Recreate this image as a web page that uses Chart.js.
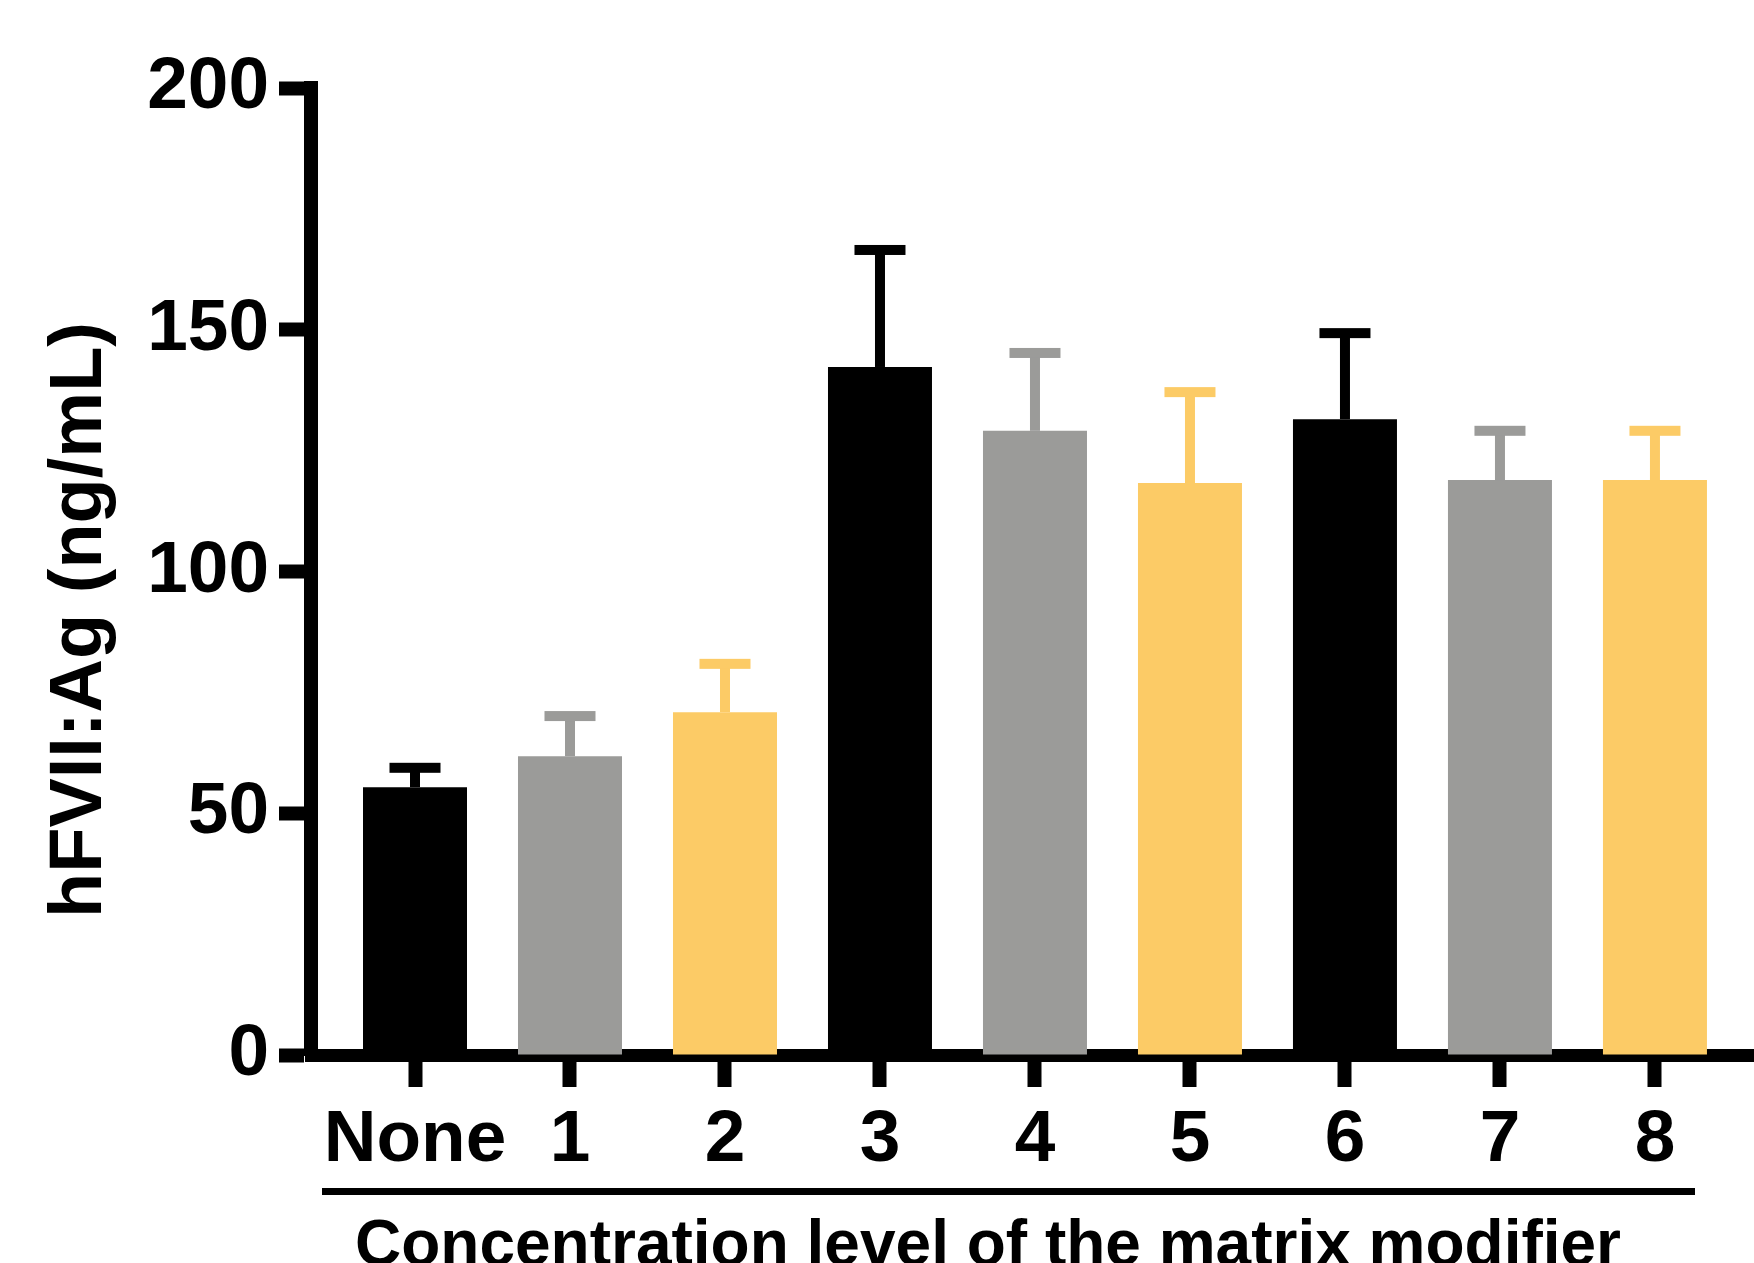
<!DOCTYPE html>
<html lang="en">
  <head>
    <meta charset="UTF-8" />
    <title>hFVII:Ag</title>
    <script src="https://cdn.jsdelivr.net/npm/chart.js@4.4.1/dist/chart.umd.min.js"></script>
    <style>
      html, body { margin: 0; padding: 0; background: #fff; overflow: hidden; }
    </style>
  </head>
  <body>
    <canvas id="fviiChart" width="1754" height="1263"></canvas>

    <script>
      // data
      const levels = ["None", "1", "2", "3", "4", "5", "6", "7", "8"];
      const meanValues = [55.4, 61.8, 70.9, 142.3, 129.1, 118.3, 131.5, 118.9, 118.9];
      const sdValues = [4.0, 8.3, 10.0, 24.2, 16.1, 18.8, 17.8, 10.2, 10.2];
      const barColors = ["#000000", "#9b9b99", "#fccb66", "#000000", "#9b9b99", "#fccb66", "#000000", "#9b9b99", "#fccb66"];
      const yTicks = [0, 50, 100, 150, 200];

      const fontFamily = "'Liberation Sans', Arial, Helvetica, sans-serif";

      // upper-only error bars, same colour as the bar
      const errorBars = {
        id: "errorBars",
        afterDatasetsDraw(chart) {
          const ctx = chart.ctx;
          const yScale = chart.scales.y;
          const meta = chart.getDatasetMeta(0);
          ctx.save();
          meta.data.forEach((bar, i) => {
            const yTop = yScale.getPixelForValue(meanValues[i] + sdValues[i]);
            ctx.fillStyle = barColors[i];
            ctx.fillRect(bar.x - 5, yTop, 10, bar.y - yTop);
            ctx.fillRect(bar.x - 25.5, yTop - 5, 51, 10);
          });
          ctx.restore();
        },
      };

      // axis titles and the line under the category labels
      const axisTitles = {
        id: "axisTitles",
        afterDraw(chart) {
          const ctx = chart.ctx;
          ctx.save();
          ctx.fillStyle = "#000";
          ctx.fillRect(322, 1188, 1373, 7);

          ctx.font = "bold 64px " + fontFamily;
          ctx.textAlign = "center";
          ctx.textBaseline = "alphabetic";
          ctx.fillText("Concentration level of the matrix modifier", 988, 1265);

          ctx.translate(101, 620);
          ctx.rotate(-Math.PI / 2);
          ctx.font = "bold 74px " + fontFamily;
          ctx.fillText("hFVII:Ag (ng/mL)", 0, 0);
          ctx.restore();
        },
      };

      const ctx = document.getElementById("fviiChart").getContext("2d");

      const fviiChart = new Chart(ctx, {
        type: "bar",
        data: {
          datasets: [
            {
              data: meanValues.map((v, i) => ({ x: i, y: v })),
              backgroundColor: barColors,
              borderWidth: 0,
              barPercentage: 0.671,
              categoryPercentage: 1,
            },
          ],
        },
        options: {
          responsive: false,
          animation: false,
          layout: { padding: { top: 88, left: 0, right: 0, bottom: 0 } },
          plugins: {
            legend: { display: false },
            tooltip: { enabled: false },
          },
          scales: {
            x: {
              type: "linear",
              min: -0.671,
              max: 8.639,
              offset: false,
              afterBuildTicks: (s) => {
                s.ticks = levels.map((_, i) => ({ value: i }));
              },
              afterFit: (s) => {
                s.height = 208;
              },
              border: { display: true, color: "#000", width: 13 },
              grid: {
                offset: false,
                drawOnChartArea: false,
                drawTicks: true,
                tickLength: 32,
                tickWidth: 14,
                tickColor: "#000",
              },
              ticks: {
                autoSkip: false,
                maxRotation: 0,
                minRotation: 0,
                padding: 17,
                color: "#000",
                font: { family: fontFamily, size: 73, weight: "bold", lineHeight: 1 },
                callback: (v) => levels[v],
              },
            },
            y: {
              min: 0,
              max: 200,
              afterBuildTicks: (s) => {
                s.ticks = yTicks.map((v) => ({ value: v }));
              },
              afterFit: (s) => {
                s.width = 311;
              },
              border: { display: true, color: "#000", width: 14 },
              grid: {
                drawOnChartArea: false,
                drawTicks: true,
                tickLength: 32,
                tickWidth: 14,
                tickColor: "#000",
              },
              ticks: {
                padding: 10,
                color: "#000",
                font: { family: fontFamily, size: 73, weight: "bold", lineHeight: 1 },
              },
            },
          },
        },
        plugins: [errorBars, axisTitles],
      });
    </script>
  </body>
</html>
